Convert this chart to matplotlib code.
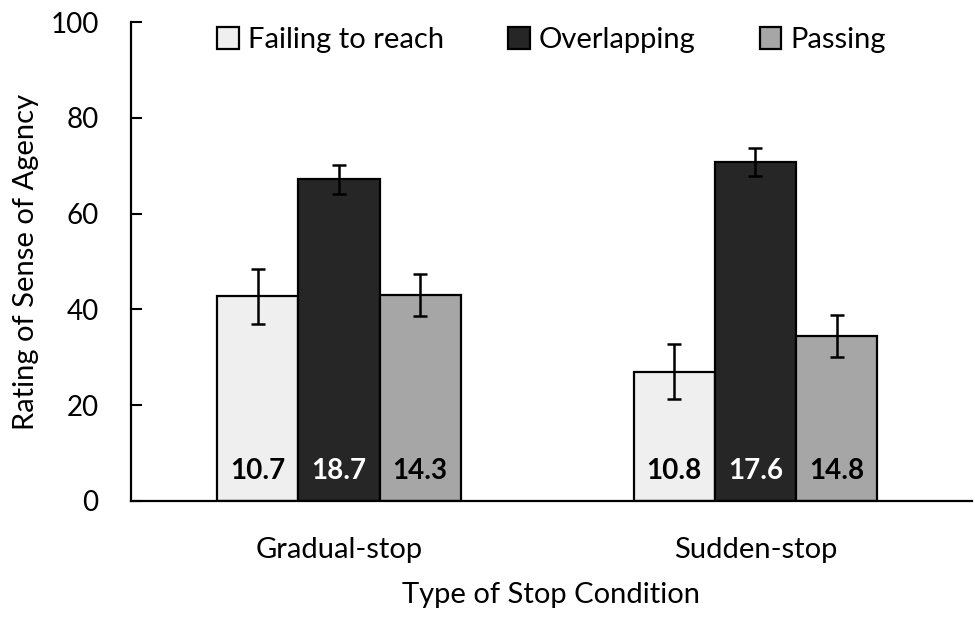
import numpy as np
import matplotlib.pyplot as plt

plt.rcParams['font.family'] = ['Lato', 'DejaVu Sans']

# Data
conditions = ["Gradual-stop", "Sudden-stop"]
series = ["Failing to reach", "Overlapping", "Passing"]
means = [
    [42.7, 27.0],   # Failing to reach
    [67.2, 70.8],   # Overlapping
    [43.0, 34.5],   # Passing
]
errors = [
    [5.75, 5.7],
    [3.0, 2.9],
    [4.35, 4.4],
]
bar_labels = [
    ["10.7", "10.8"],
    ["18.7", "17.6"],
    ["14.3", "14.8"],
]
colors = ["#efefef", "#262626", "#a6a6a6"]
text_colors = ["black", "white", "black"]

fig = plt.figure(figsize=(9.75, 6.19), dpi=100)
ax = fig.add_axes([0.134, 0.191, 0.863, 0.773])

x = np.arange(len(conditions))
width = 0.195

for i, name in enumerate(series):
    pos = x + (i - 1) * width
    ax.bar(pos, means[i], width, color=colors[i], edgecolor="black",
           linewidth=1.6, label=name, zorder=2)
    ax.errorbar(pos, means[i], yerr=errors[i], fmt="none", ecolor="black",
                elinewidth=1.8, capsize=5, capthick=1.8, zorder=3)
    for p, lab in zip(pos, bar_labels[i]):
        ax.text(p, 6.2, lab, ha="center", va="center", fontsize=20,
                fontweight="bold", color=text_colors[i], zorder=4)

ax.set_xlim(-0.5, 1.52)
ax.set_ylim(0, 100)
ax.set_yticks([0, 20, 40, 60, 80, 100])
ax.set_xticks(x)
ax.set_xticklabels(conditions)
ax.tick_params(axis="y", direction="in", length=8, width=1.5, labelsize=20, pad=23)
ax.tick_params(axis="x", length=0, labelsize=21, pad=26)

ax.spines["top"].set_visible(False)
ax.spines["right"].set_visible(False)
ax.spines["left"].set_linewidth(1.6)
ax.spines["bottom"].set_linewidth(1.6)

ax.set_ylabel("Rating of Sense of Agency", fontsize=21, labelpad=8)
ax.set_xlabel("Type of Stop Condition", fontsize=21, labelpad=14)

ax.legend(loc="upper center", bbox_to_anchor=(0.5, 1.045), ncol=3, frameon=False,
          fontsize=21, handlelength=0.75, handleheight=0.75, handletextpad=0.3,
          columnspacing=2.2)

fig.savefig("out.png", dpi=100)
